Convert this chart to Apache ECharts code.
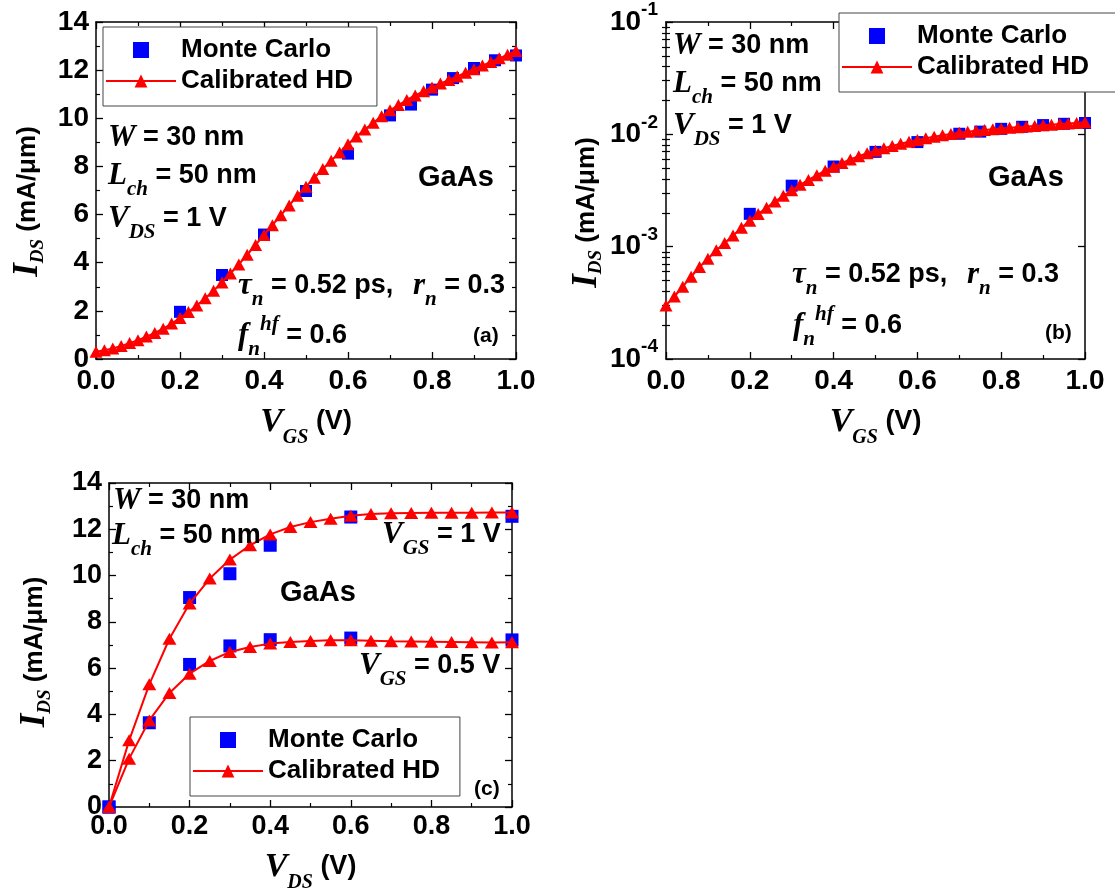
<!DOCTYPE html>
<html>
<head>
<meta charset="utf-8">
<script src="https://cdn.jsdelivr.net/npm/echarts@6/dist/echarts.min.js"></script>
<style>
  html, body { margin: 0; padding: 0; background: #fff; }
  #chart { width: 1115px; height: 890px; }
</style>
</head>
<body>
<div id="chart"></div>
<script>
const SANS = "'Liberation Sans', Arial, sans-serif";
const SERIF = "'Liberation Serif', 'Times New Roman', serif";

// Transfer characteristics at V_DS = 1 V (mA/μm)
const vgsHD = [0.00,0.02,0.04,0.06,0.08,0.10,0.12,0.14,0.16,0.18,0.20,0.22,0.24,0.26,0.28,0.30,0.32,0.34,0.36,0.38,0.40,0.42,0.44,0.46,0.48,0.50,0.52,0.54,0.56,0.58,0.60,0.62,0.64,0.66,0.68,0.70,0.72,0.74,0.76,0.78,0.80,0.82,0.84,0.86,0.88,0.90,0.92,0.94,0.96,0.98,1.00];
const idsHD = [0.30,0.36,0.44,0.54,0.66,0.78,0.93,1.08,1.26,1.47,1.70,1.95,2.22,2.52,2.84,3.18,3.55,3.93,4.33,4.74,5.15,5.56,5.97,6.38,6.78,7.16,7.53,7.89,8.24,8.58,8.92,9.24,9.53,9.81,10.08,10.33,10.55,10.76,10.95,11.12,11.28,11.44,11.59,11.74,11.89,12.04,12.19,12.34,12.49,12.64,12.80];
const vgsMC = [0.20,0.30,0.40,0.50,0.60,0.70,0.75,0.80,0.85,0.90,0.95,1.00];
const idsMC = [1.96,3.49,5.17,6.98,8.53,10.12,10.57,11.19,11.67,12.09,12.41,12.61];

// Output characteristics (mA/μm)
const vdsHD = [0.00,0.05,0.10,0.15,0.20,0.25,0.30,0.35,0.40,0.45,0.50,0.55,0.60,0.65,0.70,0.75,0.80,0.85,0.90,0.95,1.00];
const idsHD_vgs1 = [0.00,2.88,5.30,7.27,8.79,9.87,10.69,11.31,11.78,12.10,12.31,12.46,12.58,12.66,12.69,12.70,12.71,12.71,12.71,12.72,12.72];
const idsHD_vgs05 = [0.00,2.09,3.74,4.93,5.76,6.31,6.70,6.91,7.06,7.13,7.17,7.20,7.20,7.18,7.16,7.15,7.14,7.13,7.12,7.11,7.12];
const vdsMC_vgs1 = [0.00,0.20,0.30,0.40,0.60,1.00];
const idsMC_vgs1 = [0.00,9.05,10.08,11.31,12.53,12.56];
const vdsMC_vgs05 = [0.00,0.10,0.20,0.30,0.40,0.60,1.00];
const idsMC_vgs05 = [0.00,3.64,6.16,6.96,7.23,7.30,7.22];

// the log panel plots the same currents on a 1e-3 scale
const LOG_SCALE = 1e-3;
const logMinorMantissa = [2,3,4,5,6,7,8,9];
const logDecades = [-4,-3,-2];

const pairs = (xs, ys, k = 1) => xs.map((x, i) => [x, ys[i] * k]);
const logMinorTicks = [];
logDecades.forEach(d => logMinorMantissa.forEach(m => logMinorTicks.push(d + Math.log10(m))));

const BLUE = '#0000ff', RED = '#ff0000';

const titleRich = {
  i: { fontFamily: SERIF, fontStyle: 'italic', fontWeight: 'bold', fontSize: 35, lineHeight: 40, color: '#000' },
  s: { fontFamily: SERIF, fontStyle: 'italic', fontWeight: 'bold', fontSize: 19, lineHeight: 40, color: '#000', padding: [20, 0, 0, 0] },
  t: { fontFamily: SANS, fontWeight: 'bold', fontSize: 26, lineHeight: 40, color: '#000' }
};

function baseAxis(gridIndex) {
  return {
    gridIndex,
    axisLine: { show: true, onZero: false, lineStyle: { color: '#000', width: 1.5 } },
    axisTick: { show: true, inside: true, length: 7, lineStyle: { color: '#000', width: 1.3 } },
    minorTick: { show: true, splitNumber: 2, length: 4, lineStyle: { color: '#000', width: 1.2 } },
    splitLine: { show: false },
    minorSplitLine: { show: false }
  };
}

const tickLabel = (size, margin) => ({
  show: true, margin, color: '#000', fontFamily: SANS, fontWeight: 'bold', fontSize: size
});

function xMain(gridIndex, sub, gap, size, margin) {
  return Object.assign(baseAxis(gridIndex), {
    type: 'value', position: 'bottom', min: 0, max: 1, interval: 0.2,
    axisLabel: Object.assign(tickLabel(size, margin), { formatter: v => v.toFixed(1) }),
    name: '{i|V}{s|' + sub + '}{t| (V)}', nameLocation: 'middle', nameGap: gap,
    nameTextStyle: { rich: {
      i: { fontFamily: SERIF, fontStyle: 'italic', fontWeight: 'bold', fontSize: 34, lineHeight: 40, color: '#000' },
      s: { fontFamily: SERIF, fontStyle: 'italic', fontWeight: 'bold', fontSize: 20, lineHeight: 40, color: '#000', padding: [32, 0, 0, 0] },
      t: { fontFamily: SANS, fontWeight: 'bold', fontSize: 27, lineHeight: 40, color: '#000' }
    } }
  });
}
function xMirror(gridIndex) {
  return Object.assign(baseAxis(gridIndex), {
    type: 'value', position: 'top', min: 0, max: 1, interval: 0.2, axisLabel: { show: false }
  });
}
function yLinear(gridIndex, gap, shift, size, margin) {
  return Object.assign(baseAxis(gridIndex), {
    type: 'value', position: 'left', min: 0, max: 14, interval: 2,
    axisLabel: tickLabel(size, margin),
    name: '{i|I}{s|DS}{t| (mA/μm)}', nameLocation: 'middle', nameGap: gap,
    nameTextStyle: { rich: titleRich, padding: [0, shift, 0, 0] }
  });
}
function yLinearMirror(gridIndex) {
  return Object.assign(baseAxis(gridIndex), {
    type: 'value', position: 'right', min: 0, max: 14, interval: 2, axisLabel: { show: false }
  });
}
function yLog(gridIndex, position, withLabels) {
  const ax = Object.assign(baseAxis(gridIndex), {
    type: 'log', logBase: 10, position, min: 1e-4, max: 1e-1,
    minorTick: { show: false },
    axisLabel: { show: false }
  });
  if (withLabels) {
    ax.axisLabel = {
      show: true, margin: 8,
      formatter: v => '{b|10}{e|' + Math.round(Math.log10(v)) + '}',
      rich: {
        b: { fontFamily: SANS, fontWeight: 'bold', fontSize: 28, lineHeight: 40, color: '#000' },
        e: { fontFamily: SANS, fontWeight: 'bold', fontSize: 19, lineHeight: 40, color: '#000', padding: [0, 0, 24, 0] }
      }
    };
    ax.name = '{i|I}{s|DS}{t| (mA/μm)}';
    ax.nameLocation = 'middle';
    ax.nameGap = 53;
    ax.nameTextStyle = { rich: titleRich, padding: [0, 44, 0, 0] };
  }
  return ax;
}
// decade subdivisions (2..9) of the log axis, placed on a linear log10 axis
function yLogMinor(gridIndex, position) {
  return {
    gridIndex, type: 'value', position, min: -4, max: -1,
    axisLine: { show: false },
    axisLabel: { show: false },
    splitLine: { show: false },
    axisTick: { show: true, inside: true, length: 4, customValues: logMinorTicks, lineStyle: { color: '#000', width: 1.2 } }
  };
}

const mcStyle = (size) => ({ symbol: 'rect', symbolSize: size, itemStyle: { color: BLUE, opacity: 1 } });
const hdStyle = (size) => ({
  symbol: 'triangle', symbolSize: size, showAllSymbol: true,
  itemStyle: { color: RED, opacity: 1 }, lineStyle: { color: RED, width: 2 }
});

function legendAt(left, top, padRight) {
  return {
    orient: 'vertical', left, top, align: 'left',
    itemWidth: 70, itemHeight: 16, itemGap: 1,
    padding: [8, padRight, 10, 2],
    borderColor: '#444', borderWidth: 1, backgroundColor: '#fff',
    textStyle: { fontFamily: SANS, fontWeight: 'bold', fontSize: 26, lineHeight: 30, color: '#000' },
    data: [
      { name: 'Monte Carlo', icon: 'path://M0,0L10,0L10,10L0,10Z' },
      { name: 'Calibrated HD' }
    ]
  };
}

const noteRich = {
  t: { fontFamily: SANS, fontWeight: 'bold', fontSize: 27, lineHeight: 60, fill: '#000' },
  g: { fontFamily: SANS, fontWeight: 'bold', fontSize: 29, lineHeight: 60, fill: '#000' },
  p: { fontFamily: SANS, fontWeight: 'bold', fontSize: 21, lineHeight: 60, fill: '#000' },
  i: { fontFamily: SERIF, fontStyle: 'italic', fontWeight: 'bold', fontSize: 31, lineHeight: 60, fill: '#000' },
  s: { fontFamily: SERIF, fontStyle: 'italic', fontWeight: 'bold', fontSize: 21, lineHeight: 60, fill: '#000', padding: [28, 0, 0, 0] },
  u: { fontFamily: SERIF, fontStyle: 'italic', fontWeight: 'bold', fontSize: 21, lineHeight: 60, fill: '#000', padding: [0, 0, 22, 0] }
};
function note(x, y, text) {
  return { type: 'text', x, y, silent: true, z: 100,
    style: { text, rich: noteRich, fill: '#000', align: 'left', verticalAlign: 'middle' } };
}

const option = {
  animation: false,
  backgroundColor: '#fff',
  grid: [
    { left: 96, top: 22, width: 420, height: 337, outerBoundsMode: 'none', containLabel: false },
    { left: 666, top: 22, width: 419, height: 337, outerBoundsMode: 'none', containLabel: false },
    { left: 109, top: 483, width: 403, height: 324, outerBoundsMode: 'none', containLabel: false }
  ],
  xAxis: [
    xMain(0, 'GS', 36, 28, 8), xMirror(0),
    xMain(1, 'GS', 36, 28, 8), xMirror(1),
    xMain(2, 'DS', 36, 27, 6), xMirror(2)
  ],
  yAxis: [
    yLinear(0, 48, 22, 28, 7), yLinearMirror(0),
    yLog(1, 'left', true), yLog(1, 'right', false),
    yLogMinor(1, 'left'), yLogMinor(1, 'right'),
    yLinear(2, 54, 14, 27, 7), yLinearMirror(2)
  ],
  legend: [legendAt(103, 27, 24), legendAt(839, 13, 36), legendAt(190, 717, 20)],
  series: [
    // (a) linear transfer curve
    Object.assign({ name: 'Monte Carlo', type: 'scatter', xAxisIndex: 0, yAxisIndex: 0, data: pairs(vgsMC, idsMC) }, mcStyle(12)),
    Object.assign({ name: 'Calibrated HD', type: 'line', xAxisIndex: 0, yAxisIndex: 0, data: pairs(vgsHD, idsHD) }, hdStyle([13, 12])),
    // (b) log transfer curve
    Object.assign({ name: 'Monte Carlo', type: 'scatter', xAxisIndex: 2, yAxisIndex: 2, data: pairs(vgsMC, idsMC, LOG_SCALE) }, mcStyle(12)),
    Object.assign({ name: 'Calibrated HD', type: 'line', xAxisIndex: 2, yAxisIndex: 2, data: pairs(vgsHD, idsHD, LOG_SCALE) }, hdStyle([13, 12])),
    // (c) output curves
    Object.assign({ name: 'Monte Carlo', type: 'scatter', xAxisIndex: 4, yAxisIndex: 6, data: pairs(vdsMC_vgs1, idsMC_vgs1) }, mcStyle(13)),
    Object.assign({ name: 'Monte Carlo', type: 'scatter', xAxisIndex: 4, yAxisIndex: 6, data: pairs(vdsMC_vgs05, idsMC_vgs05) }, mcStyle(13)),
    Object.assign({ name: 'Calibrated HD', type: 'line', xAxisIndex: 4, yAxisIndex: 6, data: pairs(vdsHD, idsHD_vgs1) }, hdStyle([14, 12])),
    Object.assign({ name: 'Calibrated HD', type: 'line', xAxisIndex: 4, yAxisIndex: 6, data: pairs(vdsHD, idsHD_vgs05) }, hdStyle([14, 12]))
  ],
  graphic: [
    // (a)
    note(108, 138, '{i|W}{t| = 30 nm}'),
    note(108, 176, '{i|L}{s|ch}{t| = 50 nm}'),
    note(108, 219, '{i|V}{s|DS}{t| = 1 V}'),
    note(418, 178, '{g|GaAs}'),
    note(238, 286, '{i|τ}{s|n}{t| = 0.52 ps,}'),
    note(413, 286, '{i|r}{s|n}{t| = 0.3}'),
    note(238, 336, '{i|f}{s|n}{u|hf}{t| = 0.6}'),
    note(473, 336, '{p|(a)}'),
    // (b)
    note(673, 46, '{i|W}{t| = 30 nm}'),
    note(673, 84, '{i|L}{s|ch}{t| = 50 nm}'),
    note(673, 126, '{i|V}{s|DS}{t| = 1 V}'),
    note(988, 178, '{g|GaAs}'),
    note(792, 275, '{i|τ}{s|n}{t| = 0.52 ps,}'),
    note(967, 275, '{i|r}{s|n}{t| = 0.3}'),
    note(793, 326, '{i|f}{s|n}{u|hf}{t| = 0.6}'),
    note(1045, 333, '{p|(b)}'),
    // (c)
    note(113, 501, '{i|W}{t| = 30 nm}'),
    note(112, 536, '{i|L}{s|ch}{t| = 50 nm}'),
    note(280, 593, '{g|GaAs}'),
    note(382, 535, '{i|V}{s|GS}{t| = 1 V}'),
    note(359, 666, '{i|V}{s|GS}{t| = 0.5 V}'),
    note(474, 789, '{p|(c)}')
  ]
};

const chart = echarts.init(document.getElementById('chart'));
chart.setOption(option);
</script>
</body>
</html>
